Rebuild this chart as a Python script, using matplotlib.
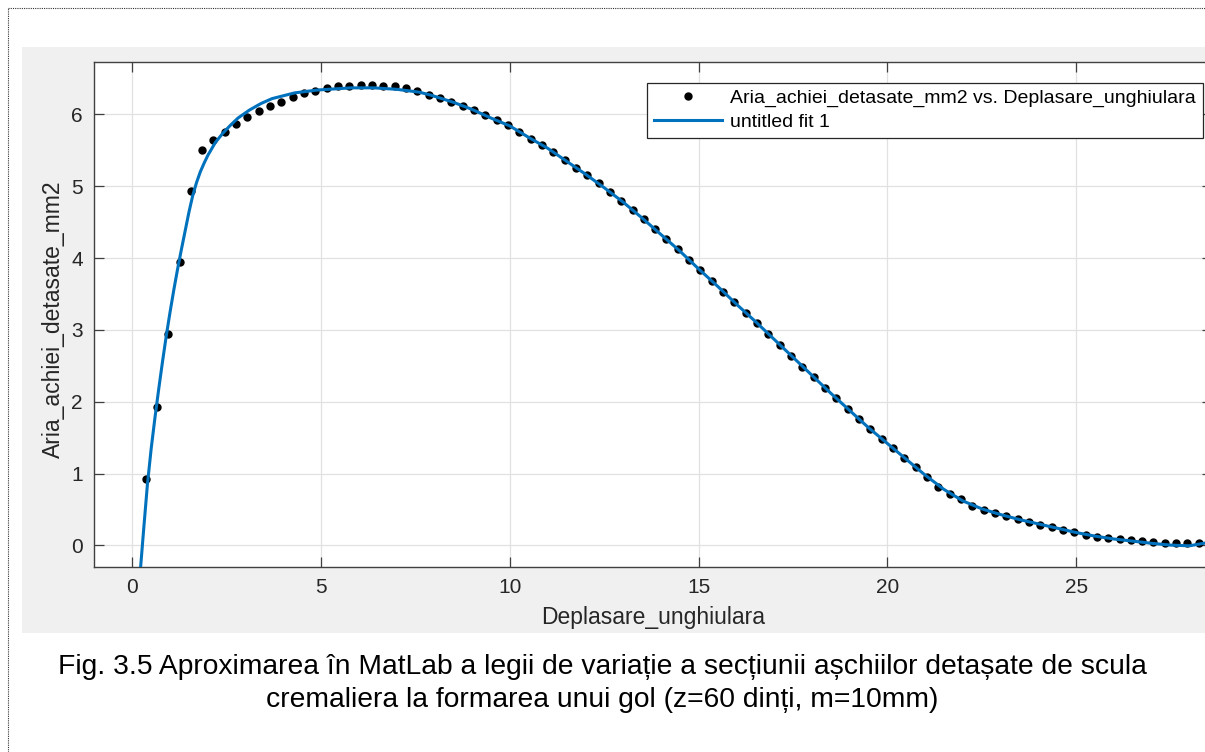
import matplotlib
matplotlib.use("Agg")
import matplotlib.pyplot as plt
from matplotlib.patches import Rectangle
from matplotlib.lines import Line2D

plt.rcParams['font.family'] = ['Liberation Sans', 'DejaVu Sans']

# puncte masurate
deplasare = [0.35, 0.65, 0.95, 1.25, 1.55, 1.85, 2.15, 2.45, 2.75, 3.05,
             3.35, 3.65, 3.95, 4.25, 4.55, 4.85, 5.15, 5.45, 5.75, 6.05,
             6.35, 6.65, 6.95, 7.25, 7.55, 7.85, 8.15, 8.45, 8.75, 9.05,
             9.35, 9.65, 9.95, 10.25, 10.55, 10.85, 11.15, 11.45, 11.75, 12.05,
             12.35, 12.65, 12.95, 13.25, 13.55, 13.85, 14.15, 14.45, 14.75, 15.05,
             15.35, 15.65, 15.95, 16.25, 16.55, 16.85, 17.15, 17.45, 17.75, 18.05,
             18.35, 18.65, 18.95, 19.25, 19.55, 19.85, 20.15, 20.45, 20.75, 21.05,
             21.35, 21.65, 21.95, 22.25, 22.55, 22.85, 23.15, 23.45, 23.75, 24.05,
             24.35, 24.65, 24.95, 25.25, 25.55, 25.85, 26.15, 26.45, 26.75, 27.05,
             27.35, 27.65, 27.95, 28.25]
aria = [0.93, 1.93, 2.95, 3.94, 4.93, 5.51, 5.65, 5.76, 5.87, 5.97,
        6.05, 6.12, 6.18, 6.24, 6.30, 6.33, 6.37, 6.40, 6.40, 6.41,
        6.41, 6.40, 6.39, 6.37, 6.32, 6.27, 6.23, 6.18, 6.12, 6.06,
        5.99, 5.92, 5.85, 5.75, 5.66, 5.58, 5.48, 5.37, 5.25, 5.15,
        5.04, 4.92, 4.80, 4.67, 4.54, 4.40, 4.27, 4.12, 3.97, 3.83,
        3.685, 3.53, 3.385, 3.24, 3.09, 2.94, 2.79, 2.64, 2.49, 2.34,
        2.19, 2.05, 1.90, 1.76, 1.62, 1.48, 1.35, 1.22, 1.09, 0.95,
        0.82, 0.72, 0.64, 0.555, 0.49, 0.45, 0.41, 0.37, 0.33, 0.29,
        0.26, 0.22, 0.185, 0.15, 0.12, 0.10, 0.083, 0.069, 0.06, 0.051,
        0.037, 0.032, 0.028, 0.028]

# curba de aproximare (untitled fit 1)
fit_x = [0.22, 0.3, 0.4, 0.5, 0.6, 0.7, 0.8, 0.9, 1.0, 1.1,
         1.2, 1.3, 1.4, 1.5, 1.6, 1.7, 1.8, 1.9, 2.0, 2.2,
         2.4, 2.6, 2.8, 3.1, 3.4, 3.7, 4.0, 4.3, 4.6, 4.9,
         5.2, 5.5, 5.8, 6.1, 6.4, 6.7, 7.0, 7.3, 7.6, 7.9,
         8.5, 9.0, 9.5, 10.0, 10.5, 11.0, 11.5, 12.0, 12.5, 13.0,
         13.5, 14.0, 14.5, 15.0, 15.5, 16.0, 16.5, 17.0, 17.5, 18.0,
         18.5, 19.0, 19.5, 20.0, 20.5, 21.0, 21.5, 22.0, 22.5, 23.0,
         23.5, 24.0, 24.5, 25.0, 25.5, 26.0, 26.5, 27.0, 27.5, 28.0,
         28.6]
fit_y = [-0.30, 0.22, 0.85, 1.35, 1.78, 2.18, 2.56, 2.92, 3.25, 3.56,
         3.85, 4.12, 4.38, 4.64, 4.87, 5.05, 5.20, 5.32, 5.43, 5.61,
         5.74, 5.85, 5.95, 6.06, 6.15, 6.22, 6.26, 6.30, 6.32, 6.34,
         6.35, 6.36, 6.37, 6.37, 6.37, 6.36, 6.35, 6.33, 6.31, 6.27,
         6.17, 6.07, 5.95, 5.84, 5.68, 5.53, 5.35, 5.17, 4.98, 4.78,
         4.56, 4.33, 4.10, 3.85, 3.61, 3.36, 3.12, 2.87, 2.62, 2.37,
         2.12, 1.88, 1.64, 1.42, 1.20, 0.98, 0.78, 0.62, 0.51, 0.43,
         0.36, 0.30, 0.24, 0.18, 0.13, 0.09, 0.06, 0.03, 0.005, -0.005,
         0.05]

xticks = [0, 5, 10, 15, 20, 25]
yticks = [0, 1, 2, 3, 4, 5, 6]

caption1 = "Fig. 3.5 Aproximarea în MatLab a legii de variație a secțiunii așchiilor detașate de scula"
caption2 = "cremaliera la formarea unui gol (z=60 dinți, m=10mm)"

W, H = 1205, 752
fig = plt.figure(figsize=(W / 100, H / 100), dpi=100)
fig.patch.set_facecolor('white')

# fundal gri al ferestrei MATLAB
fig.add_artist(Rectangle((22 / W, (H - 633) / H), 1 - 22 / W, (633 - 47) / H,
                         transform=fig.transFigure, facecolor='#f0f0f0',
                         edgecolor='none', zorder=-10))
# chenar punctat al paginii
fig.add_artist(Line2D([8 / W, 8 / W], [0, 1 - 7.5 / H], transform=fig.transFigure,
                      color='#333333', lw=0.8, ls=(0, (1, 1))))
fig.add_artist(Line2D([8 / W, 1], [1 - 7.5 / H, 1 - 7.5 / H], transform=fig.transFigure,
                      color='#333333', lw=0.8, ls=(0, (1, 1))))

ax = fig.add_axes([94 / W, (H - 567) / H, 1118 / W, 505 / H])
ax.set_zorder(1)
ax.set_facecolor('white')
ax.plot(deplasare, aria, 'o', color='black', ms=5, zorder=2,
        label='Aria_achiei_detasate_mm2 vs. Deplasare_unghiulara')
ax.plot(fit_x, fit_y, color='#0072BD', lw=2.2, zorder=3, label='untitled fit 1')

ax.set_xlim(-1.015, 28.6)
ax.set_ylim(-0.3, 6.73)
ax.set_xticks(xticks)
ax.set_yticks(yticks)
ax.grid(True, color='#e1e1e1', lw=0.9)
ax.set_axisbelow(True)
ax.tick_params(direction='in', length=7, width=0.9, color='#404040',
               labelsize=15, labelcolor='#262626', top=True, right=True, pad=8)
for s in ax.spines.values():
    s.set_color('#404040')
    s.set_linewidth(1.0)

ax.set_xlabel('Deplasare_unghiulara', fontsize=16.5, color='#262626')
ax.set_ylabel('Aria_achiei_detasate_mm2', fontsize=16.5, color='#262626')
ax.xaxis.set_label_coords(0.5, -0.078)
ax.yaxis.set_label_coords(-0.026, 0.49)

leg = ax.legend(loc='upper right', bbox_to_anchor=(1203 / W, 1 - 82.7 / H),
                bbox_transform=fig.transFigure, borderaxespad=0, fontsize=14,
                numpoints=1, handlelength=3.5, handletextpad=0.45,
                borderpad=0.35, labelspacing=0.3, fancybox=False,
                framealpha=1, edgecolor='#262626')
leg.get_frame().set_linewidth(0.9)

fig.text(0.5, 1 - 667 / H, caption1, ha='center', va='center', fontsize=20.3, color='black')
fig.text(0.5, 1 - 700 / H, caption2, ha='center', va='center', fontsize=20.3, color='black')

fig.savefig('out.png', dpi=100)
plt.close()
